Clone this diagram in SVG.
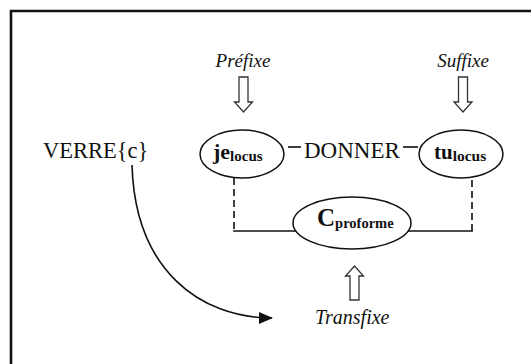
<svg xmlns="http://www.w3.org/2000/svg" width="531" height="364" viewBox="0 0 531 364">
<style>
text{font-family:'Liberation Serif','DejaVu Serif',serif;fill:#111}
.i{font-style:italic}
.b{font-weight:bold}
.ln{stroke:#111;stroke-width:1.6;fill:none}
.d{stroke-dasharray:7,4}
.el{stroke:#111;stroke-width:1.5;fill:#fff}
.ha{stroke:#333;stroke-width:1.3;fill:#fff;stroke-linejoin:miter}
</style>
<defs>
<marker id="ah" viewBox="0 0 14 12" refX="13" refY="6" markerWidth="14" markerHeight="12" markerUnits="userSpaceOnUse" orient="auto">
<path d="M0,0 L14,6 L0,12 Z" fill="#111"/>
</marker>
</defs>
<rect width="531" height="364" fill="#fff"/>
<g id="frame">
<path d="M11,364 V11 H531" fill="none" stroke="#111" stroke-width="2.6"/>
</g>
<g id="connectors">
<line class="ln" x1="288" y1="147" x2="301" y2="147"/>
<line class="ln" x1="403" y1="147" x2="418" y2="147"/>
<polyline class="ln d" points="234,178 234,231"/>
<polyline class="ln" points="233.2,231 296,231"/>
<polyline class="ln" points="408,231 472.8,231"/>
<polyline class="ln d" points="472,231 472,177"/>
<path class="ln" d="M132,165 C135,270 200,318 272,318" marker-end="url(#ah)"/>
<path class="ha" d="M239,77 H248 V102 H252.5 L243.5,112 L234.5,102 H239 Z"/>
<path class="ha" d="M458.5,77 H467.5 V102 H472 L463,112 L454,102 H458.5 Z"/>
<path class="ha" d="M350,300 H359 V276 H363.5 L354.5,266 L345.5,276 H350 Z"/>
</g>
<g id="prefixe">
<text class="i" font-family="Liberation Serif" x="243" y="67" font-size="19" text-anchor="middle">Préfixe</text>
</g>
<g id="suffixe">
<text class="i" font-family="Liberation Serif" x="463" y="67" font-size="19" text-anchor="middle">Suffixe</text>
</g>
<g id="verre">
<text font-family="Liberation Serif" x="43" y="158" font-size="22.5">VERRE{c}</text>
</g>
<g id="je">
<ellipse class="el" cx="242" cy="154" rx="42" ry="24"/>
<text class="b" font-family="Liberation Serif" x="213" y="159" font-size="22">je<tspan font-size="15" dy="2">locus</tspan></text>
</g>
<g id="donner">
<text font-family="Liberation Serif" x="304" y="158" font-size="23">DONNER</text>
</g>
<g id="tu">
<ellipse class="el" cx="461" cy="154" rx="42" ry="24"/>
<text class="b" font-family="Liberation Serif" x="434" y="159" font-size="21">tu<tspan font-size="15.5" dy="2">locus</tspan></text>
</g>
<g id="proforme">
<ellipse class="el" cx="352" cy="223" rx="59" ry="26"/>
<text class="b" font-family="Liberation Serif" x="317" y="226" font-size="25">C<tspan font-size="14.5" dy="2">proforme</tspan></text>
</g>
<g id="transfixe">
<text class="i" font-family="Liberation Serif" x="315" y="324" font-size="20">Transfixe</text>
</g>
</svg>
